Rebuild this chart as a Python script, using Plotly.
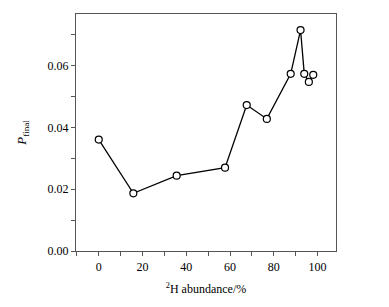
import plotly.graph_objects as go

abundance = [0, 15.8, 35.6, 57.7, 67.6, 76.8, 87.7, 92.2, 93.9, 96.0, 98.0]
p_final = [0.0361, 0.0187, 0.0244, 0.0270, 0.0473, 0.0428, 0.0574, 0.0716, 0.0574, 0.0548, 0.0571]
x_ticks = [0, 20, 40, 60, 80, 100]
y_ticks = [0, 0.02, 0.04, 0.06]

font_family = "Liberation Serif"
frame = "#555555"

fig = go.Figure()
fig.add_trace(go.Scatter(
    x=abundance, y=p_final, mode="lines+markers",
    line=dict(color="black", width=1.3),
    marker=dict(symbol="circle", size=7, color="white",
                line=dict(color="black", width=1.2)),
    showlegend=False,
))

fig.update_layout(
    width=389, height=307,
    margin=dict(l=76, r=53, t=14, b=56),
    paper_bgcolor="white", plot_bgcolor="white",
    font=dict(family=font_family, size=12, color="black"),
)
fig.update_xaxes(
    range=[-10.4, 108.4], tickvals=x_ticks,
    ticks="outside", ticklen=4, tickcolor=frame, tickwidth=1,
    tickfont=dict(family=font_family, size=12),
    minor=dict(dtick=10, tick0=0, ticks="outside", ticklen=4, tickcolor=frame, showgrid=False),
    showline=True, linecolor=frame, linewidth=1.2, mirror=True,
    showgrid=False, zeroline=False,
    title=dict(text="<sup>2</sup>H abundance/%", font=dict(family=font_family, size=12), standoff=12),
)
fig.update_yaxes(
    range=[0, 0.0768], tickvals=y_ticks, tickformat=".2f",
    ticks="outside", ticklen=4, tickcolor=frame, tickwidth=1,
    tickfont=dict(family=font_family, size=12),
    minor=dict(dtick=0.01, tick0=0, ticks="outside", ticklen=4, tickcolor=frame, showgrid=False),
    showline=True, linecolor=frame, linewidth=1.2, mirror=True,
    showgrid=False, zeroline=False,
    title=dict(text="<i>P</i><sub>final</sub>", font=dict(family=font_family, size=13), standoff=17),
)

fig.write_html("out.html", config={"displayModeBar": False},
               post_script="document.body.style.margin='0px';document.body.style.overflow='hidden';")
